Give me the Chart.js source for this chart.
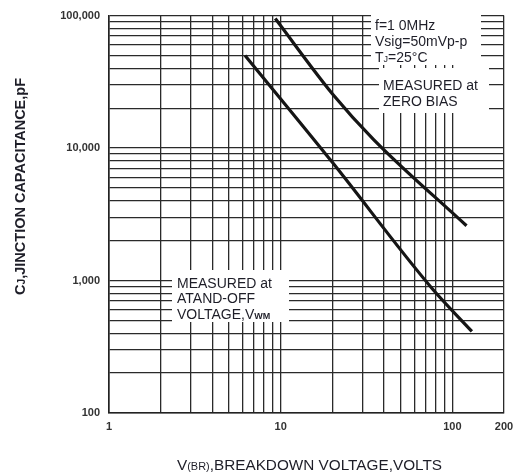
<!DOCTYPE html>
<html><head><meta charset="utf-8">
<script src="https://cdn.jsdelivr.net/npm/chart.js@4.4.1/dist/chart.umd.min.js"></script>
<style>html,body{margin:0;padding:0;background:#fff}#wrap{width:522px;height:474px;position:relative}</style>
</head><body><div id="wrap"><canvas id="c"></canvas></div>
<script>
// ---- data ----
const xTickValues = [1,2,3,4,5,6,7,8,9,10,20,30,40,50,60,70,80,90,100,200];
const xTickLabels = ['1','10','100','200'];
const yTickValues = [100,200,300,400,500,600,700,800,900,
  1000,2000,3000,4000,5000,6000,7000,8000,9000,
  10000,20000,30000,40000,50000,60000,70000,80000,90000,100000];
const yTickLabels = ['100','1,000','10,000','100,000'];
// Curve "MEASURED at ZERO BIAS"
const zeroBiasVolts = [9.3, 20.1, 34.8, 121];
const zeroBiasPf    = [95000, 25500, 11600, 2590];
// Curve "MEASURED at STAND-OFF VOLTAGE"
const standOffVolts = [6.2, 20, 76, 130];
const standOffPf    = [50000, 7800, 875, 413];

const FONT = '"Liberation Sans", Arial, sans-serif';
const INK = '#1e1e28';

function pts(xs, ys){ return xs.map((x,i)=>({x:x, y:ys[i]})); }

function drawRuns(ctx, runs, x, y, opts){
  opts = opts || {};
  let w = 0;
  runs.forEach(r=>{ ctx.font = (r.bold?'bold ':'') + r.size + 'px ' + FONT; r.w = ctx.measureText(r.t).width; w += r.w; });
  const sx = opts.width ? opts.width / w : 1;
  ctx.save();
  ctx.translate(x, y);
  if (opts.rotate) ctx.rotate(opts.rotate);
  ctx.scale(sx, 1);
  let cx = opts.center ? -w/2 : 0;
  ctx.textBaseline = 'alphabetic';
  ctx.textAlign = 'left';
  runs.forEach(r=>{ ctx.font = (r.bold?'bold ':'') + r.size + 'px ' + FONT; ctx.fillText(r.t, cx, r.dy||0); cx += r.w; });
  ctx.restore();
}

const notes = {
  id: 'notes',
  beforeDatasetsDraw(chart){
    const ctx = chart.ctx;
    ctx.save();
    ctx.fillStyle = '#fff';
    ctx.fillRect(371, 14, 110, 51);
    ctx.fillRect(379, 68, 110, 45);
    ctx.fillRect(172, 270, 117, 52);
    ctx.fillStyle = INK;
    drawRuns(ctx, [{t:'f=1 0MHz', size:14}], 375, 30);
    drawRuns(ctx, [{t:'Vsig=50mVp-p', size:14}], 375, 46);
    drawRuns(ctx, [{t:'T', size:14},{t:'J', size:9},{t:'=25\u00B0C', size:14}], 375, 62);
    drawRuns(ctx, [{t:'MEASURED at', size:14}], 383, 90);
    drawRuns(ctx, [{t:'ZERO BIAS', size:14}], 383, 106);
    drawRuns(ctx, [{t:'MEASURED at', size:14}], 177, 288);
    drawRuns(ctx, [{t:'ATAND-OFF', size:14}], 177, 303);
    drawRuns(ctx, [{t:'VOLTAGE,V', size:14},{t:'WM', size:9, bold:true}], 177, 319);
    ctx.restore();
  },
  afterDraw(chart){
    const ctx = chart.ctx;
    ctx.save();
    ctx.fillStyle = INK;
    drawRuns(ctx, [{t:'V', size:14},{t:'(BR)', size:10},{t:',BREAKDOWN VOLTAGE,VOLTS', size:14}], 309.5, 470, {center:true, width:265});
    drawRuns(ctx, [{t:'C', size:14, bold:true},{t:'J', size:10, bold:true},{t:',JINCTION CAPACITANCE,pF', size:14, bold:true}], 25, 186.5, {center:true, rotate:-Math.PI/2, width:217});
    ctx.restore();
  }
};

const gridStyle = { color:'#2a2a2a', lineWidth:1.3, drawTicks:false };
const borderStyle = { display:true, color:'#222', width:1.6 };

new Chart(document.getElementById('c'), {
  type: 'scatter',
  data: {
    datasets: [
      { label:'Zero bias', data: pts(zeroBiasVolts, zeroBiasPf), showLine:true, borderColor:'#151515', borderWidth:3.2, pointRadius:0, cubicInterpolationMode:'monotone', fill:false },
      { label:'Stand-off', data: pts(standOffVolts, standOffPf), showLine:true, borderColor:'#151515', borderWidth:3.2, pointRadius:0, cubicInterpolationMode:'monotone', fill:false }
    ]
  },
  options: {
    responsive: true, maintainAspectRatio: false, animation: false,
    layout: { padding: { left: 0, top: 7, right: 18, bottom: 0 } },
    plugins: { legend:{display:false}, tooltip:{enabled:false} },
    scales: {
      x: {
        type: 'logarithmic', min: 1, max: 200,
        afterBuildTicks: s => { s.ticks = xTickValues.map(v=>({value:v})); },
        afterFit: s => { s.height = 61; },
        grid: gridStyle, border: borderStyle,
        ticks: { autoSkip:false, maxRotation:0, padding:7, color:'#333', font:{family:FONT, size:11, weight:'bold'},
          callback: v => xTickLabels.includes(String(v)) ? String(v) : '' }
      },
      y: {
        type: 'logarithmic', min: 100, max: 100000,
        afterBuildTicks: s => { s.ticks = yTickValues.map(v=>({value:v})); },
        afterFit: s => { s.width = 109; },
        grid: gridStyle, border: borderStyle,
        ticks: { autoSkip:false, padding:9, color:'#333', font:{family:FONT, size:11, weight:'bold'},
          callback: v => { const l = Number(v).toLocaleString('en-US'); return yTickLabels.includes(l) ? l : ''; } }
      }
    }
  },
  plugins: [notes]
});
</script>
</body></html>
